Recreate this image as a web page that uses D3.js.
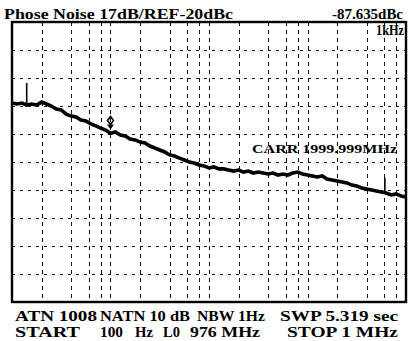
<!DOCTYPE html>
<html>
<head>
<meta charset="utf-8">
<script src="https://cdn.jsdelivr.net/npm/d3@7/dist/d3.min.js"></script>
<style>
  body { margin: 0; background: #fff; }
  svg text { font-family: "Liberation Serif", "DejaVu Serif", serif; font-weight: bold; fill: #000; }
</style>
</head>
<body>
<div id="chart"></div>
<script>
// offset frequency (Hz), 20 points per decade
var offsetHz = [100,112,126,141,158,178,200,224,251,282,316,355,398,447,501,562,631,708,794,891,
  1000,1120,1260,1410,1580,1780,2000,2240,2510,2820,3160,3550,3980,4470,5010,5620,6310,7080,7940,8910,
  10000,11200,12600,14100,15800,17800,20000,22400,25100,28200,31600,35500,39800,44700,50100,56200,63100,70800,79400,89100,
  100000,112000,126000,141000,158000,178000,200000,224000,251000,282000,316000,355000,398000,447000,501000,562000,631000,708000,794000,891000,
  1000000];
// phase noise (dBc/Hz)
var noiseDbc = [-69.2,-69.8,-69.2,-70.4,-69.8,-70.4,-68.6,-69.8,-71.0,-72.8,-73.4,-75.9,-77.1,-77.7,-79.5,-80.1,-81.9,-83.1,-84.4,-85.6,
  -87.6,-86.8,-88.6,-89.2,-91.0,-91.6,-92.9,-93.5,-95.3,-96.5,-97.7,-98.9,-100.7,-101.4,-102.6,-103.8,-105.0,-105.6,-106.8,-107.4,
  -108.6,-108.0,-109.2,-109.2,-109.9,-110.5,-109.9,-111.1,-110.5,-111.7,-111.1,-111.7,-112.3,-111.7,-112.9,-112.3,-112.9,-111.7,-111.1,-112.3,
  -112.9,-113.5,-114.1,-113.5,-115.3,-115.9,-116.5,-117.1,-117.7,-119.0,-119.6,-120.8,-121.4,-122.0,-122.6,-123.2,-123.8,-125.0,-124.4,-125.6,
  -126.2];
// spurs
var spurHz = [141, 610000];
var spurBase = [-70.4, -124.0];
var spurTop = [-57.0, -114.5];

var refLevel = -20, dbPerDiv = 17, divisions = 10;
var startHz = 100, stopHz = 1000000;
var decades = [100, 1000, 10000, 100000];
var gridMult = [2, 4, 6, 8, 10];
var markerHz = 1000, markerDbc = -87.635;

var width = 409, height = 341;
var margin = {top: 22, right: 3, bottom: 39, left: 12};

var svg = d3.select('#chart').append('svg').attr('width', width).attr('height', height);

var x = d3.scaleLog()
  .domain([startHz, stopHz])
  .range([margin.left, width - margin.right]);
var y = d3.scaleLinear()
  .domain([refLevel - dbPerDiv * divisions, refLevel])
  .range([height - margin.bottom, margin.top]);

var crisp = v => Math.round(v) + 0.5;
var plotTop = margin.top, plotBottom = height - margin.bottom;

// horizontal divisions
var yLines = d3.range(1, divisions).map(d => refLevel - d * dbPerDiv);
svg.append('g').selectAll('path').data(yLines).enter().append('path')
  .attr('d', d => `M${x(startHz)},${crisp(y(d))}H${x(stopHz)}`)
  .attr('stroke', '#111').attr('stroke-width', 1)
  .attr('stroke-dasharray', '3,5');

// vertical log grid
var xLines = [];
decades.forEach(d => gridMult.forEach(m => { if (d * m < stopHz) xLines.push(d * m); }));
svg.append('g').selectAll('path').data(xLines).enter().append('path')
  .attr('d', d => `M${crisp(x(d))},${plotTop}V${plotBottom}`)
  .attr('stroke', '#111').attr('stroke-width', 1)
  .attr('stroke-dasharray', '4,4');

// frame
svg.append('rect')
  .attr('x', x(startHz)).attr('y', plotTop)
  .attr('width', x(stopHz) - x(startHz))
  .attr('height', plotBottom - plotTop)
  .attr('fill', 'none').attr('stroke', '#000').attr('stroke-width', 2.4);

// trace
var line = d3.line()
  .x((d, i) => x(offsetHz[i]))
  .y(d => y(d));
svg.append('path')
  .datum(noiseDbc)
  .attr('fill', 'none')
  .attr('stroke', '#000')
  .attr('stroke-width', 3.6)
  .attr('stroke-linejoin', 'miter')
  .attr('d', line);

svg.selectAll('.spur').data(spurHz).enter().append('line')
  .attr('x1', d => x(d)).attr('x2', d => x(d))
  .attr('y1', (d, i) => y(spurBase[i])).attr('y2', (d, i) => y(spurTop[i]))
  .attr('stroke', '#000').attr('stroke-width', 1.6);

// marker
var mx = x(markerHz), my = y(markerDbc);
svg.append('path')
  .attr('d', `M${mx},${my - 4} l-3.5,-5 h7 z`)
  .attr('fill', '#000');
svg.append('path')
  .attr('d', `M${mx},${my - 17} l3,4 l-3,4 l-3,-4 z`)
  .attr('fill', 'none').attr('stroke', '#000').attr('stroke-width', 1.6);

// texts: [label, x, baseline y, size, width]
var labels = [
  ['Phose Noise 17dB/REF-20dBc', 4, 19, 15.5, 229],
  ['-87.635dBc', 332, 19, 15.5, 71],
  ['1kHz', 376, 35, 14, 28],
  ['CARR 1999.999MHz', 252, 153, 13.5, 145],
  ['ATN 1008', 15, 321, 15.5, 82],
  ['NATN 10 dB', 100, 321, 15.5, 90],
  ['NBW 1Hz', 197, 321, 15.5, 68],
  ['SWP 5.319 sec', 280, 321, 15.5, 118],
  ['START', 15, 337, 15.5, 65],
  ['100', 100, 337, 15.5, 23],
  ['Hz', 135, 337, 15.5, 18],
  ['L0', 163, 337, 15.5, 17],
  ['976 MHz', 190, 337, 15.5, 70],
  ['STOP 1 MHz', 287, 337, 15.5, 111]
];
svg.selectAll('.lbl').data(labels).enter().append('text')
  .attr('x', d => d[1]).attr('y', d => d[2])
  .style('font-size', d => d[3] + 'px')
  .attr('textLength', d => d[4])
  .attr('lengthAdjust', 'spacingAndGlyphs')
  .text(d => d[0]);
</script>
</body>
</html>
